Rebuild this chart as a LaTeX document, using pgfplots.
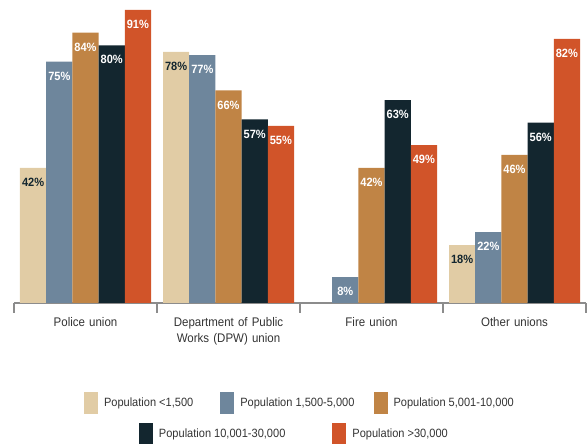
\documentclass[border=0pt]{standalone}
\usepackage{fontspec}
\setmainfont{Liberation Sans}[FakeStretch=0.92]
\usepackage{pgfplots}
\pgfplotsset{compat=1.18}
\definecolor{cBeige}{HTML}{E1CCA5}
\definecolor{cBlue}{HTML}{6E869C}
\definecolor{cTan}{HTML}{C08445}
\definecolor{cNavy}{HTML}{13262F}
\definecolor{cOrange}{HTML}{D15429}
\definecolor{cAxis}{HTML}{8C8C8C}
\definecolor{cText}{HTML}{333333}
\pgfplotsset{
  base/.style={
    scale only axis, width=572pt, height=303pt,
    xmin=-0.5, xmax=3.5, ymin=0, ymax=94.1,
  },
  swatch/.style={legend image code/.code={\fill[##1,draw=none] (0pt,-11pt) rectangle (14pt,11pt);}},
}
\begin{document}
\begin{tikzpicture}
\useasboundingbox (-14pt,-141pt) rectangle (573pt,303pt);
\begin{axis}[base,
  ybar=0pt, bar width=26.2pt,
  axis y line=none, axis x line*=bottom,
  x axis line style={cAxis, line width=1.3pt, -},
  xtick={0,1,2,3},
  xticklabels={Police union, {Department of Public\\Works (DPW) union}, Fire union, Other unions},
  major tick length=0pt,
  minor xtick={-0.5,0.5,1.5,2.5,3.5},
  minor tick length=10pt, tick align=outside,
  minor tick style={cAxis, line width=1.3pt},
  xticklabel style={text width=150pt, align=center, yshift=-11pt, text=cText,
     font=\fontsize{12.5}{15.5}\selectfont},
  point meta=y,
  nodes near coords={\pgfmathprintnumber[assume math mode=true]{\pgfplotspointmeta}\%},
  every node near coord/.append style={anchor=north, yshift=-10pt, inner sep=0pt,
     font=\fontsize{12}{14}\selectfont\bfseries, text=white},
  swatch,
  legend style={draw=none, fill=none, inner sep=0pt, outer sep=0pt,
     at={(0.1224,-0.330)}, anchor=west, legend columns=3,
     font=\fontsize{12}{14}\selectfont, text=cText,
     /tikz/column 1/.style={column sep=4pt},
     /tikz/column 2/.style={column sep=25pt},
     /tikz/column 3/.style={column sep=4pt},
     /tikz/column 4/.style={column sep=17pt},
     /tikz/column 5/.style={column sep=4pt}},
  legend cell align=left,
]
\addplot[fill=cBeige, draw=none, every node near coord/.append style={text=cNavy}] coordinates {(0,42) (1,78) (3,18)};
\addplot[fill=cBlue, draw=none] coordinates {(0,75) (1,77) (2,8) (3,22)};
\addplot[fill=cTan, draw=none] coordinates {(0,84) (1,66) (2,42) (3,46)};
\addplot[fill=cNavy, draw=none] coordinates {(0,80) (1,57) (2,63) (3,56)};
\addplot[fill=cOrange, draw=none] coordinates {(0,91) (1,55) (2,49) (3,82)};
\legend{Population <1{,}500, Population 1{,}500-5{,}000, Population 5{,}001-10{,}000}
\end{axis}
\begin{axis}[base, hide axis, swatch,
  legend style={draw=none, fill=none, inner sep=0pt, outer sep=0pt,
     at={(0.2185,-0.4323)}, anchor=west, legend columns=2,
     font=\fontsize{12}{14}\selectfont, text=cText,
     /tikz/every odd column/.append style={column sep=4pt},
     /tikz/every even column/.append style={column sep=45pt}},
  legend cell align=left,
]
\addlegendimage{fill=cNavy}
\addlegendentry{Population 10{,}001-30{,}000}
\addlegendimage{fill=cOrange}
\addlegendentry{Population >30{,}000}
\end{axis}
\end{tikzpicture}
\end{document}
